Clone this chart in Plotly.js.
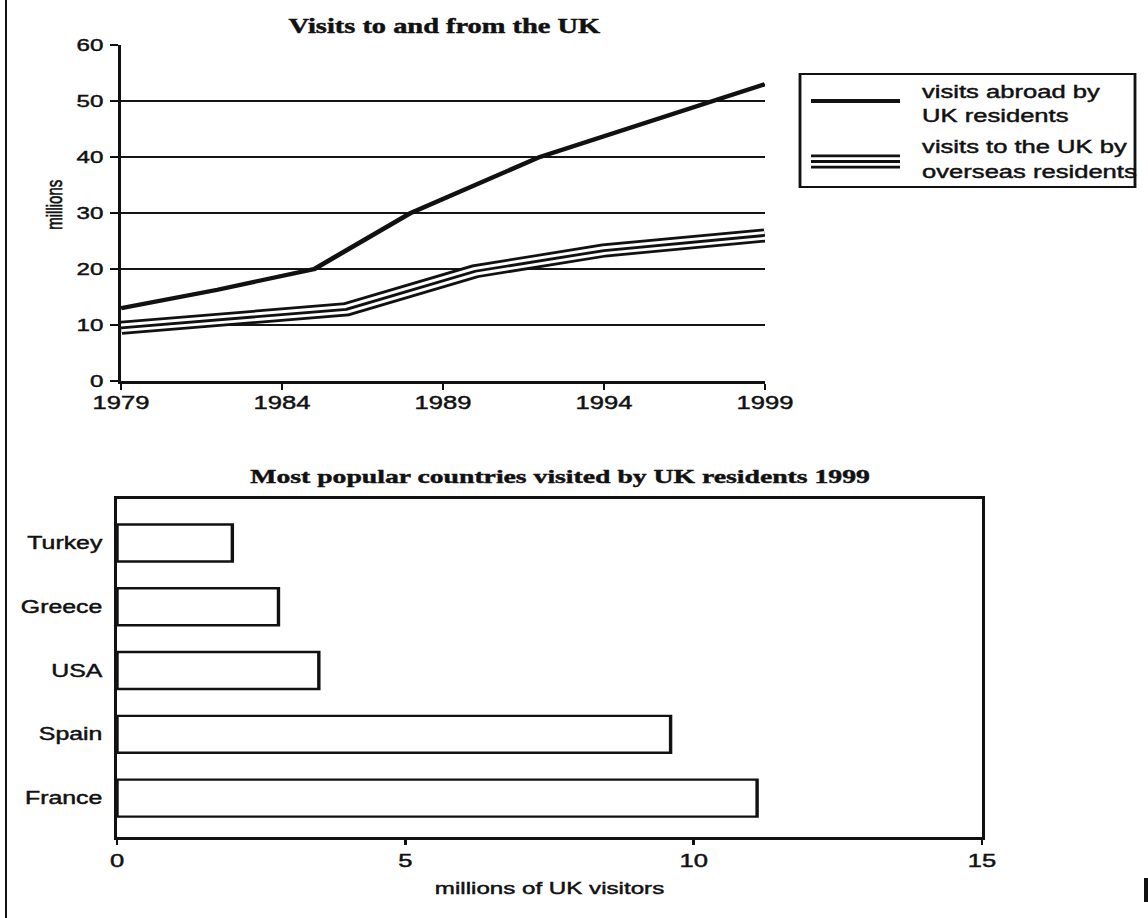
<!DOCTYPE html>
<html>
<head>
<meta charset="utf-8">
<script src="https://cdn.plot.ly/plotly-3.0.1.min.js"></script>
<style>
  html, body { margin: 0; padding: 0; background: #ffffff; }
  #wrap { width: 1148px; height: 918px; overflow: hidden; position: relative; background: #fff; }
  #plot { width: 808px; height: 918px; transform: scaleX(1.420792); transform-origin: 0 0; }
  #plot svg text { stroke: #111111; stroke-width: 0.45px; }
</style>
</head>
<body>
<div id="wrap"><div id="plot"></div></div>
<script>
// ---- data ----
const yearsAbroad = [1979, 1982, 1985, 1988, 1992, 1999];
const visitsAbroad = [13, 16.3, 20, 30, 40, 53];
const yearsOverseas = [1979, 1986, 1990, 1992, 1994, 1999];
const visitsOverseas = [9.5, 12.8, 19.6, 21.5, 23.3, 26];
const countries = ['France', 'Spain', 'USA', 'Greece', 'Turkey'];
const countryVisitors = [11.1, 9.6, 3.5, 2.8, 2];
const yearTicks = [1979, 1984, 1989, 1994, 1999];
const millionTicks = [0, 10, 20, 30, 40, 50, 60];
const gridTicks = [10, 20, 30, 40, 50];
const visitorTicks = [0, 5, 10, 15];
const legendLabels = ['visits abroad by', 'UK residents', 'visits to the UK by', 'overseas residents'];
const topTitle = 'Visits to and from the UK';
const bottomTitle = 'Most popular countries visited by UK residents 1999';
const yTitle = 'millions';
const xTitle = 'millions of UK visitors';

// page-pixel helpers (page is 1148 x 918)
const PW = 1148, PH = 918;
const px = x => x / PW;
const py = y => 1 - y / PH;

const SANS = 'Liberation Sans, Arial, sans-serif';
const SERIF = 'Liberation Serif, Times New Roman, serif';
const INK = '#111111';

const traces = [
  { x: yearsOverseas, y: visitsOverseas, type: 'scatter', mode: 'lines', xaxis: 'x', yaxis: 'y',
    line: { color: INK, width: 14 }, hoverinfo: 'skip' },
  { x: yearsOverseas, y: visitsOverseas, type: 'scatter', mode: 'lines', xaxis: 'x', yaxis: 'y',
    line: { color: '#ffffff', width: 8.6 }, hoverinfo: 'skip' },
  { x: yearsOverseas, y: visitsOverseas, type: 'scatter', mode: 'lines', xaxis: 'x', yaxis: 'y',
    line: { color: INK, width: 2.8 }, name: 'visits to the UK by overseas residents' },
  { x: yearsAbroad, y: visitsAbroad, type: 'scatter', mode: 'lines', xaxis: 'x', yaxis: 'y3',
    line: { color: INK, width: 4.2 }, name: 'visits abroad by UK residents' },
  { x: countryVisitors, y: countries, type: 'bar', orientation: 'h', xaxis: 'x2', yaxis: 'y2',
    width: 0.58, marker: { color: '#ffffff', line: { color: INK, width: 2.4 } } }
];

const tickFont = { family: SANS, size: 18, color: INK };

const layout = {
  width: 808, height: 918,
  margin: { l: 0, r: 0, t: 0, b: 0, pad: 0 },
  paper_bgcolor: '#ffffff', plot_bgcolor: 'rgba(0,0,0,0)',
  showlegend: false,
  xaxis: {
    domain: [px(121), px(765)], anchor: 'y', range: [1979, 1999],
    tickvals: yearTicks, ticktext: yearTicks.map(String),
    ticks: 'outside', ticklen: 6, tickwidth: 1.8, tickcolor: INK,
    showline: true, linewidth: 2.6, linecolor: INK,
    showgrid: false, zeroline: false, tickfont: tickFont, ticklabelstandoff: -2
  },
  yaxis: {
    domain: [py(381), py(45)], anchor: 'x', range: [0, 60],
    tickvals: millionTicks, ticks: 'outside', ticklen: 6, tickwidth: 2, tickcolor: INK,
    showline: true, linewidth: 2, linecolor: INK,
    showgrid: false, zeroline: false, tickfont: { family: SANS, size: 17, color: INK }, ticklabelstandoff: 1
  },
  yaxis3: {
    overlaying: 'y', anchor: 'x', range: [0, 60],
    tickvals: gridTicks, showticklabels: false, ticks: '',
    showgrid: true, gridcolor: '#151515', gridwidth: 2,
    showline: false, zeroline: false
  },
  xaxis2: {
    domain: [px(117), px(982)], anchor: 'y2', range: [0, 15],
    tickvals: visitorTicks, ticks: 'outside', ticklen: 5, tickwidth: 1.8, tickcolor: INK,
    showline: true, mirror: true, linewidth: 2.6, linecolor: INK,
    showgrid: false, zeroline: false, tickfont: tickFont, ticklabelstandoff: 1
  },
  yaxis2: {
    domain: [py(837), py(499)], anchor: 'x2', type: 'category',
    categoryorder: 'array', categoryarray: countries, range: [-0.61, 4.69],
    ticks: '', showline: true, mirror: true, linewidth: 1.8, linecolor: INK,
    showgrid: false, zeroline: false, tickfont: { family: SANS, size: 17.5, color: INK }, ticklabelstandoff: 5
  },
  shapes: [
    // legend box
    { type: 'rect', xref: 'paper', yref: 'paper', x0: px(800), x1: px(1135), y0: py(187), y1: py(74),
      line: { color: INK, width: 2 }, fillcolor: 'rgba(0,0,0,0)' },
    // legend symbol: single line
    { type: 'line', xref: 'paper', yref: 'paper', x0: px(811), x1: px(900), y0: py(101), y1: py(101),
      line: { color: INK, width: 4.2 } },
    // legend symbol: triple line
    { type: 'line', xref: 'paper', yref: 'paper', x0: px(811), x1: px(900), y0: py(161.5), y1: py(161.5),
      line: { color: INK, width: 14 } },
    { type: 'line', xref: 'paper', yref: 'paper', x0: px(811), x1: px(900), y0: py(161.5), y1: py(161.5),
      line: { color: '#ffffff', width: 8.6 } },
    { type: 'line', xref: 'paper', yref: 'paper', x0: px(811), x1: px(900), y0: py(161.5), y1: py(161.5),
      line: { color: INK, width: 2.8 } },
    // scan border on the left
    { type: 'line', xref: 'paper', yref: 'paper', x0: px(6), x1: px(6), y0: 0, y1: 1,
      line: { color: INK, width: 1.4 } },
    // small scan mark bottom right
    { type: 'rect', xref: 'paper', yref: 'paper', x0: px(1144), x1: px(1148), y0: py(902), y1: py(878),
      line: { width: 0 }, fillcolor: INK }
  ],
  annotations: [
    { text: '<b>' + topTitle + '</b>', xref: 'paper', yref: 'paper', x: px(445), y: py(26),
      xanchor: 'center', yanchor: 'middle', showarrow: false,
      font: { family: SERIF, size: 20, color: INK } },
    { text: '<b>' + bottomTitle + '</b>', xref: 'paper', yref: 'paper', x: px(561), y: py(476),
      xanchor: 'center', yanchor: 'middle', showarrow: false,
      font: { family: SERIF, size: 19.5, color: INK } },
    { text: yTitle, xref: 'paper', yref: 'paper', x: px(55), y: py(205), textangle: -90,
      xanchor: 'center', yanchor: 'middle', showarrow: false,
      font: { family: SANS, size: 15, color: INK } },
    { text: xTitle, xref: 'paper', yref: 'paper', x: px(550), y: py(888),
      xanchor: 'center', yanchor: 'middle', showarrow: false,
      font: { family: SANS, size: 17, color: INK } },
    { text: legendLabels[0], xref: 'paper', yref: 'paper', x: px(919), y: py(92),
      xanchor: 'left', yanchor: 'middle', showarrow: false, font: { family: SANS, size: 18, color: INK } },
    { text: legendLabels[1], xref: 'paper', yref: 'paper', x: px(919), y: py(116),
      xanchor: 'left', yanchor: 'middle', showarrow: false, font: { family: SANS, size: 18, color: INK } },
    { text: legendLabels[2], xref: 'paper', yref: 'paper', x: px(919), y: py(147),
      xanchor: 'left', yanchor: 'middle', showarrow: false, font: { family: SANS, size: 18, color: INK } },
    { text: legendLabels[3], xref: 'paper', yref: 'paper', x: px(919), y: py(171.5),
      xanchor: 'left', yanchor: 'middle', showarrow: false, font: { family: SANS, size: 18, color: INK } }
  ]
};

Plotly.newPlot('plot', traces, layout, { staticPlot: true, displayModeBar: false, responsive: false });
</script>
</body>
</html>
